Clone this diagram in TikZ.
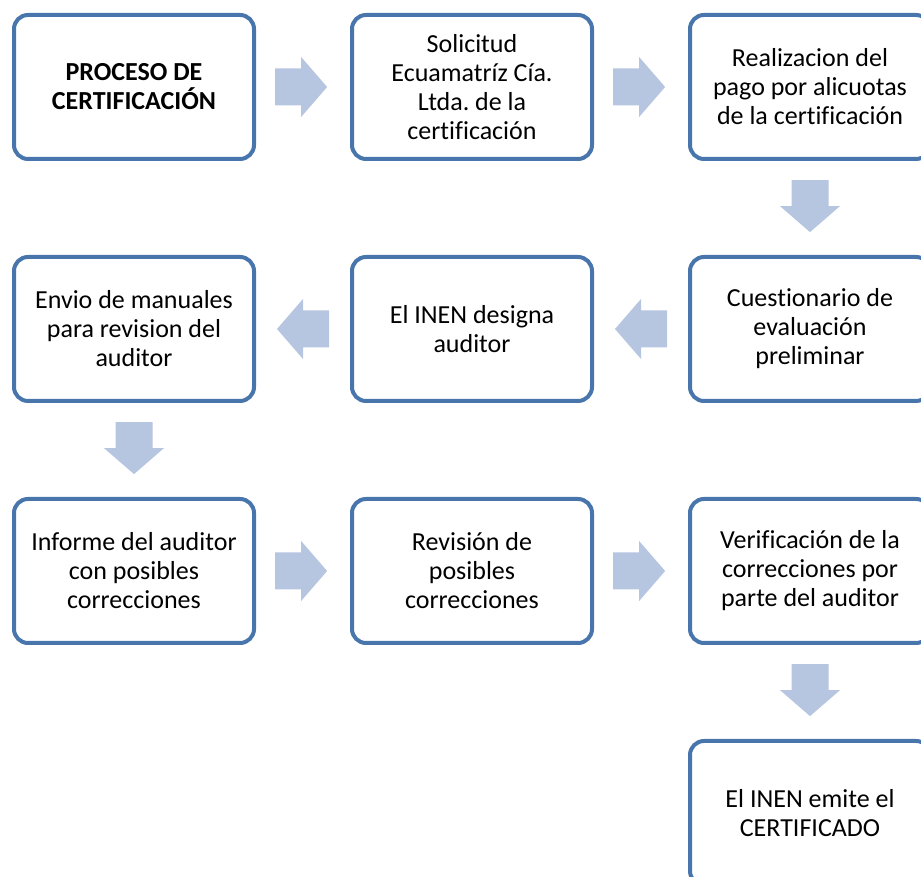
\documentclass[tikz,border=0pt]{standalone}
\usepackage{fontspec}
\setmainfont{Carlito}[Ligatures=NoCommon]
\usetikzlibrary{positioning}
\usetikzlibrary{calc}

\definecolor{boxline}{RGB}{72,118,172}
\definecolor{arrowfill}{RGB}{182,197,224}

\tikzset{
	stage/.style={draw=boxline, line width=4pt, rounded corners=14pt,
		minimum width=240pt, minimum height=144pt, inner sep=0pt,
		align=center, font=\fontsize{26}{29}\selectfont},
	flowarrow/.pic={
		\fill[arrowfill] (-26,-18.5) -- (0,-18.5) -- (0,-30) -- (26,0)
			-- (0,30) -- (0,18.5) -- (-26,18.5) -- cycle;
	}
}

\begin{document}
\frenchspacing
\begin{tikzpicture}[x=1pt, y=1pt, node distance=94pt]
	\path[use as bounding box, clip] (0,0) rectangle (921,877);
	% first row, left to right
	\node[stage] at (134,790) (proceso) {\textbf{PROCESO DE}\\\textbf{CERTIFICACIÓN}};
	\node[stage, right=of proceso] (solicitud) {Solicitud\\Ecuamatríz Cía.\\Ltda. de la\\certificación};
	\node[stage, right=of solicitud] (pago) {Realizacion del\\pago por alicuotas\\de la certificación};
	% second row, right to left
	\node[stage, below=of pago] (cuestionario) {Cuestionario de\\evaluación\\preliminar};
	\node[stage, left=of cuestionario] (designa) {El INEN designa\\auditor};
	\node[stage, left=of designa] (manuales) {Envio de manuales\\para revision del\\auditor};
	% third row, left to right
	\node[stage, below=of manuales] (informe) {Informe del auditor\\con posibles\\correcciones};
	\node[stage, right=of informe] (revision) {Revisión de\\posibles\\correcciones};
	\node[stage, right=of revision] (verificacion) {Verificación de la\\correcciones por\\parte del auditor};
	\node[stage, below=of verificacion] (certificado) {El INEN emite el\\CERTIFICADO};

	\pic at ($(proceso.east)!0.48!(solicitud.west)$) {flowarrow};
	\pic at ($(solicitud.east)!0.48!(pago.west)$) {flowarrow};
	\pic[rotate=-90] at ($(pago.south)!0.48!(cuestionario.north)$) {flowarrow};
	\pic[rotate=180] at ($(cuestionario.west)!0.5!(designa.east)$) {flowarrow};
	\pic[rotate=180] at ($(designa.west)!0.5!(manuales.east)$) {flowarrow};
	\pic[rotate=-90] at ($(manuales.south)!0.48!(informe.north)$) {flowarrow};
	\pic at ($(informe.east)!0.48!(revision.west)$) {flowarrow};
	\pic at ($(revision.east)!0.48!(verificacion.west)$) {flowarrow};
	\pic[rotate=-90] at ($(verificacion.south)!0.48!(certificado.north)$) {flowarrow};
\end{tikzpicture}
\end{document}
